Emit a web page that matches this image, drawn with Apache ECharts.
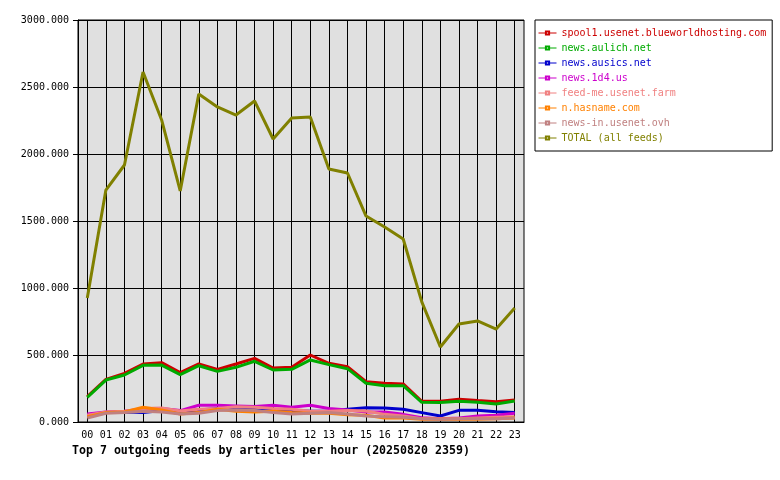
<!DOCTYPE html>
<html>
<head>
<meta charset="utf-8">
<script src="https://cdn.jsdelivr.net/npm/echarts@6/dist/echarts.min.js"></script>
<style>
  html, body { margin: 0; padding: 0; background: #fff; }
  #chart { width: 780px; height: 480px; }
</style>
</head>
<body>
<div id="chart"></div>
<script>
// hours of the day
const hours = ['00','01','02','03','04','05','06','07','08','09','10','11',
               '12','13','14','15','16','17','18','19','20','21','22','23'];

// articles per hour
const spool1   = [189, 318, 363, 433, 443, 368, 433, 393, 433, 475, 403, 408, 500, 438, 413, 301, 289, 284, 154, 154, 169, 160, 152, 164];
const aulich   = [184, 313, 351, 423, 425, 353, 420, 378, 408, 453, 388, 393, 463, 428, 398, 289, 271, 271, 147, 146, 154, 148, 134, 157];
const ausics   = [55, 70, 75, 70, 85, 80, 90, 100, 105, 105, 95, 85, 80, 80, 95, 107, 104, 95, 70, 45, 87, 87, 77, 70];
const d4us     = [60, 75, 80, 95, 100, 85, 125, 125, 120, 115, 125, 110, 125, 100, 90, 75, 75, 57, 32, 25, 30, 45, 50, 65];
const feedme   = [50, 75, 80, 100, 105, 82, 95, 100, 113, 110, 100, 95, 80, 80, 85, 82, 57, 45, 25, 25, 25, 30, 35, 40];
const hasname  = [40, 70, 75, 110, 90, 60, 70, 95, 80, 75, 80, 70, 65, 65, 55, 50, 30, 30, 20, 20, 20, 20, 25, 30];
const newsin   = [30, 65, 70, 80, 75, 60, 65, 85, 90, 85, 70, 60, 65, 70, 60, 45, 40, 35, 25, 20, 25, 25, 25, 30];
const total    = [925, 1731, 1918, 2612, 2254, 1724, 2448, 2351, 2291, 2396, 2112, 2269, 2276, 1888, 1858, 1537, 1455, 1366, 896, 560, 731, 754, 694, 851];

const feedNames = ['spool1.usenet.blueworldhosting.com', 'news.aulich.net', 'news.ausics.net',
                   'news.1d4.us', 'feed-me.usenet.farm', 'n.hasname.com', 'news-in.usenet.ovh',
                   'TOTAL (all feeds)'];
const feedData = [spool1, aulich, ausics, d4us, feedme, hasname, newsin, total];
const feedColors = ['#cc0000', '#00aa00', '#0000cc', '#cc00cc', '#f08080', '#ff8000', '#c08080', '#808000'];

const mono = 'DejaVu Sans Mono';

const chart = echarts.init(document.getElementById('chart'));

const series = feedNames.map((name, i) => ({
  name: name,
  type: 'line',
  data: feedData[i],
  symbol: 'emptyRect',
  symbolSize: 4,
  showSymbol: false,
  animation: false,
  lineStyle: { width: 3, color: feedColors[i] },
  itemStyle: { color: feedColors[i] },
  emphasis: { disabled: true },
  z: i === 7 ? 3 : 2
}));

chart.setOption({
  backgroundColor: '#fff',
  animation: false,
  grid: {
    left: 78, right: 256, top: 20, bottom: 58,
    show: true,
    backgroundColor: '#e0e0e0',
    borderColor: '#000',
    borderWidth: 1
  },
  title: {
    text: 'Top 7 outgoing feeds by articles per hour (20250820 2359)',
    left: 72, top: 445,
    padding: 0,
    textStyle: { fontFamily: mono, fontSize: 11.6, fontWeight: 'bold', color: '#000' }
  },
  legend: {
    orient: 'vertical',
    left: 535, top: 20,
    padding: [8, 6, 8, 3],
    itemGap: 5,
    itemWidth: 18,
    itemHeight: 4,
    borderColor: '#000',
    borderWidth: 1,
    backgroundColor: '#fff',
    selectedMode: false,
    lineStyle: { width: 1 },
    itemStyle: { borderWidth: 1 },
    data: feedNames.map((n, i) => ({ name: n, textStyle: { color: feedColors[i] } })),
    textStyle: { fontFamily: mono, fontSize: 10, lineHeight: 10 }
  },
  xAxis: {
    type: 'category',
    data: hours,
    boundaryGap: true,
    axisLine: { lineStyle: { color: '#000' } },
    axisTick: { alignWithLabel: true, length: 5, lineStyle: { color: '#000' } },
    axisLabel: { fontFamily: mono, fontSize: 10, color: '#000', margin: 8 },
    splitLine: { show: true, alignWithLabel: true, lineStyle: { color: '#000', width: 1 } }
  },
  yAxis: {
    type: 'value',
    min: 0, max: 3000, interval: 500,
    axisLine: { show: true, lineStyle: { color: '#000' } },
    axisTick: { show: true, length: 5, lineStyle: { color: '#000' } },
    axisLabel: {
      fontFamily: mono, fontSize: 10, color: '#000', margin: 9,
      formatter: v => v.toFixed(3)
    },
    splitLine: { show: true, lineStyle: { color: '#000', width: 1 } }
  },
  series: series
});
</script>
</body>
</html>
